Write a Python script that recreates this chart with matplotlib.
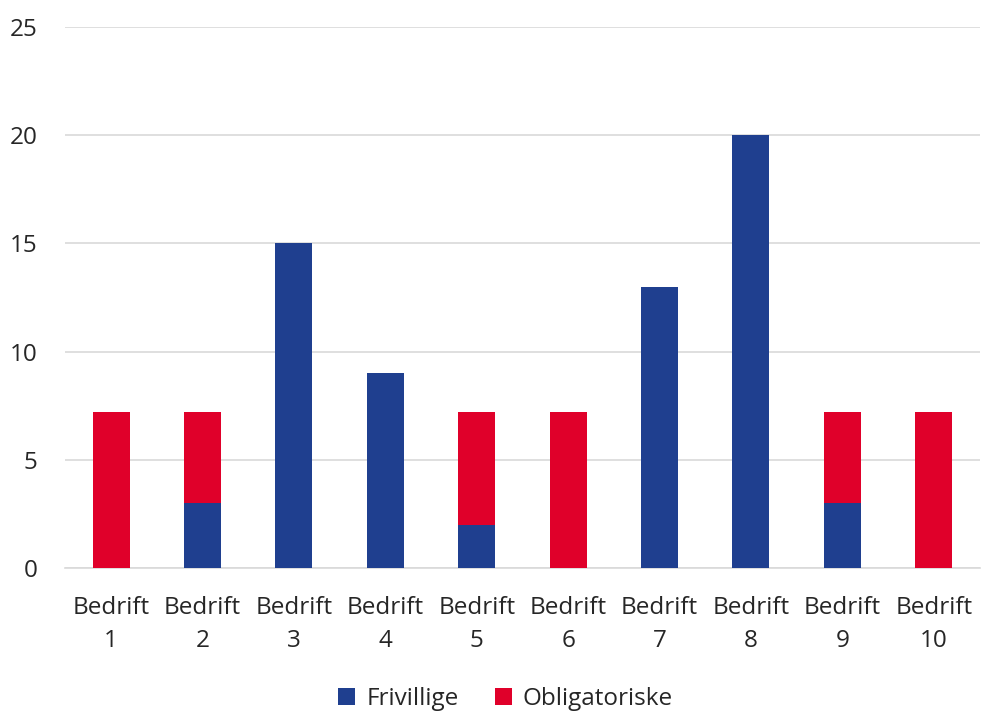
import matplotlib
matplotlib.use("Agg")
import matplotlib.pyplot as plt
import numpy as np

categories = ["Bedrift\n1", "Bedrift\n2", "Bedrift\n3", "Bedrift\n4", "Bedrift\n5",
              "Bedrift\n6", "Bedrift\n7", "Bedrift\n8", "Bedrift\n9", "Bedrift\n10"]
frivillige = [0, 3, 15, 9, 2, 0, 13, 20, 3, 0]
obligatoriske = [7.2, 4.2, 0, 0, 5.2, 7.2, 0, 0, 4.2, 7.2]
yticks = [0, 5, 10, 15, 20, 25]

blue = "#1F3F8F"
red = "#E0002A"
grid = "#D9D9D9"
text_c = "#262626"

plt.rcParams['font.family'] = ['Open Sans', 'DejaVu Sans']
fs = 17.5

fig = plt.figure(figsize=(9.82, 7.13), dpi=100)
ax = fig.add_axes([0.0665, 0.2034, 0.931, 0.7587])

x = np.arange(len(categories))
w = 0.405
ax.bar(x, frivillige, w, color=blue, label="Frivillige", zorder=3)
ax.bar(x, obligatoriske, w, bottom=frivillige, color=red, label="Obligatoriske", zorder=3)

ax.set_xlim(-0.5, len(categories) - 0.5)
ax.set_ylim(0, 25)
ax.set_yticks(yticks)
ax.set_xticks(x)
ax.set_xticklabels(categories, fontsize=fs, color=text_c, linespacing=1.5)
ax.tick_params(axis='y', labelsize=fs, colors=text_c, length=0, pad=20)
ax.tick_params(axis='x', length=0, pad=20)
for lbl in ax.get_yticklabels():
    lbl.set_color(text_c)
ax.yaxis.grid(True, color=grid, linewidth=1.2, zorder=0)
for s in ["top", "right", "left"]:
    ax.spines[s].set_visible(False)
ax.spines["bottom"].set_color(grid)
ax.spines["bottom"].set_linewidth(1.2)

leg = fig.legend(loc="center", bbox_to_anchor=(0.515, 0.019), ncol=2, frameon=False,
                 fontsize=fs, handlelength=0.7, handleheight=0.7, handletextpad=0.45,
                 columnspacing=1.5)
for t in leg.get_texts():
    t.set_color(text_c)

fig.savefig("out.png", dpi=100)
